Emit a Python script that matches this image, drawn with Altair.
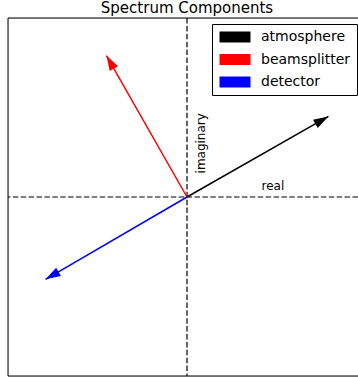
import math
import altair as alt
import pandas as pd

# Phasor components (real, imaginary) for each contribution
names = ["atmosphere", "beamsplitter", "detector"]
real_parts = [0.79, -0.45, -0.79]
imag_parts = [0.45, 0.79, -0.46]
colors = ["black", "red", "blue"]

df = pd.DataFrame({"name": names, "re": real_parts, "im": imag_parts})
df["x0"] = 0.0
df["y0"] = 0.0
# clockwise screen angle of each arrow, for rotating the heads
df["ang"] = [(math.degrees(math.atan2(r, i)) + 360) % 360 for r, i in zip(real_parts, imag_parts)]

font = "DejaVu Sans"
W, H = 350, 358
# square axes of [-1, 1]; the right part is cut at the page edge
xs = alt.Scale(domain=[-1, 2 * W / H - 1], nice=False, zero=False)
ys = alt.Scale(domain=[-1, 1], nice=False, zero=False)
cscale = alt.Scale(domain=names, range=colors)

base = alt.Chart(df)

shafts = base.mark_rule(strokeWidth=1.5).encode(
    x=alt.X("x0:Q", scale=xs, axis=None),
    y=alt.Y("y0:Q", scale=ys, axis=None),
    x2="re:Q",
    y2="im:Q",
    color=alt.Color(
        "name:N",
        scale=cscale,
        legend=alt.Legend(
            title=None,
            orient="none",
            legendX=204,
            legendY=6,
            symbolType="M-3.1,-1.1H3.1V1.1H-3.1Z",
            symbolSize=100,
            symbolStrokeWidth=0,
            symbolOpacity=1,
            symbolOffset=10,
            labelOffset=19,
            labelFont=font,
            labelFontSize=14,
            labelColor="black",
            rowPadding=8.5,
            padding=6,
            strokeColor="black",
            fillColor="white",
            cornerRadius=0,
        ),
    ),
)

heads = base.mark_point(
    shape="M0,0L-0.32,1L0.32,1Z", filled=True, size=900, opacity=1, strokeWidth=0
).encode(
    x=alt.X("re:Q", scale=xs, axis=None),
    y=alt.Y("im:Q", scale=ys, axis=None),
    angle=alt.Angle("ang:Q", scale=None),
    color=alt.Color("name:N", scale=cscale, legend=None),
)

zero_df = pd.DataFrame({"v": [0.0]})
dash = dict(color="black", strokeWidth=1.2, strokeDash=[5.5, 2.4])
vline = alt.Chart(zero_df).mark_rule(**dash).encode(x=alt.X("v:Q", scale=xs, axis=None))
hline = alt.Chart(zero_df).mark_rule(**dash).encode(y=alt.Y("v:Q", scale=ys, axis=None))

# axes frame: left, top and bottom edges
frame_x = pd.DataFrame({"v": [-1.0]})
frame_y = pd.DataFrame({"v": [-1.0, 1.0]})
left_edge = alt.Chart(frame_x).mark_rule(color="black", strokeWidth=1).encode(
    x=alt.X("v:Q", scale=xs, axis=None)
)
tb_edges = alt.Chart(frame_y).mark_rule(color="black", strokeWidth=1).encode(
    y=alt.Y("v:Q", scale=ys, axis=None)
)

label_df = pd.DataFrame({"t": ["real"], "x": [0.48], "y": [0.06]})
real_lbl = alt.Chart(label_df).mark_text(font=font, fontSize=12, color="black").encode(
    x=alt.X("x:Q", scale=xs, axis=None), y=alt.Y("y:Q", scale=ys, axis=None), text="t:N"
)
imag_df = pd.DataFrame({"t": ["imaginary"], "x": [0.08], "y": [0.30]})
imag_lbl = alt.Chart(imag_df).mark_text(font=font, fontSize=12, color="black", angle=270).encode(
    x=alt.X("x:Q", scale=xs, axis=None), y=alt.Y("y:Q", scale=ys, axis=None), text="t:N"
)

# title centred over the axes' middle (x = 0)
title_df = pd.DataFrame({"t": ["Spectrum Components"], "x": [0.0]})
title_txt = alt.Chart(title_df).mark_text(
    font=font, fontSize=15, color="black", baseline="alphabetic", align="center"
).encode(
    x=alt.X("x:Q", scale=xs, axis=None), y=alt.value(-5), text="t:N"
)

chart = (
    alt.layer(vline, hline, left_edge, tb_edges, shafts, heads, real_lbl, imag_lbl, title_txt)
    .properties(
        width=W,
        height=H,
        autosize=alt.AutoSizeParams(type="none"),
        padding={"left": 8, "top": 18, "right": 0, "bottom": 2},
    )
    .configure_view(stroke=None)
    .configure(background="white")
)

chart.save("out.html", embed_options={"renderer": "svg", "actions": False})
